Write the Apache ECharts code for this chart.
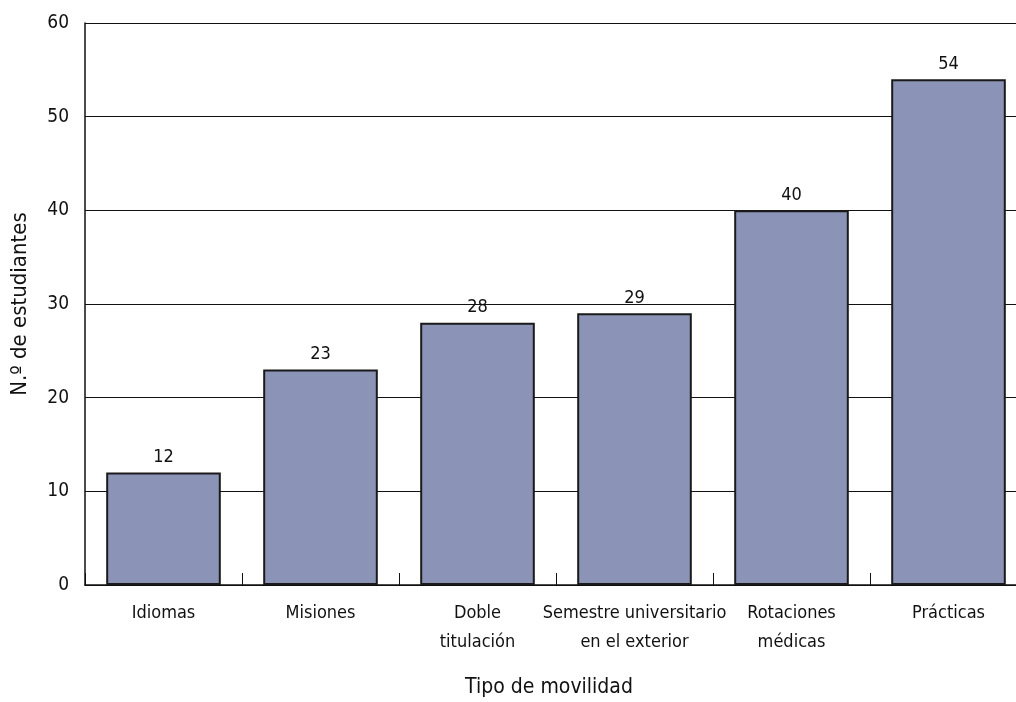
<!DOCTYPE html>
<html>
<head>
<meta charset="utf-8">
<script src="https://cdn.jsdelivr.net/npm/echarts@6/dist/echarts.min.js"></script>
<style>
  html, body { margin: 0; padding: 0; background: #fff; }
  #chart { width: 1016px; height: 702px; }
</style>
</head>
<body>
<div id="chart"></div>
<script>
// datos del gráfico
var categorias = ['Idiomas', 'Misiones', 'Doble\ntitulación', 'Semestre universitario\nen el exterior', 'Rotaciones\nmédicas', 'Prácticas'];
var estudiantes = [12, 23, 28, 29, 40, 54];
var ejeY = { min: 0, max: 60, interval: 10 };

var fuente = '"Liberation Sans Narrow", "DejaVu Sans Condensed", Roboto, sans-serif';

var chart = echarts.init(document.getElementById('chart'));
var option = {
    animation: false,
    textStyle: { fontFamily: fuente },
    grid: { left: 85, width: 942, top: 23, height: 562, outerBoundsMode: 'none', containLabel: false },
    xAxis: {
        type: 'category',
        data: categorias,
        name: 'Tipo de movilidad',
        nameLocation: 'middle',
        nameMoveOverlap: false,
        nameGap: 92,
        nameTextStyle: { fontFamily: fuente, fontSize: 21, color: '#111', padding: [0, 14, 0, 0] },
        axisLine: { lineStyle: { color: '#111', width: 1.5 } },
        axisTick: { show: true, inside: true, length: 12, interval: 0, lineStyle: { color: '#111' } },
        axisLabel: { fontFamily: fuente, fontSize: 18, color: '#111', lineHeight: 29, margin: 14, interval: 0 }
    },
    yAxis: {
        type: 'value',
        min: ejeY.min,
        max: ejeY.max,
        interval: ejeY.interval,
        name: 'N.º de estudiantes',
        nameLocation: 'middle',
        nameGap: 54,
        nameTextStyle: { fontFamily: fuente, fontSize: 22, color: '#111' },
        axisLine: { show: true, lineStyle: { color: '#111', width: 1.5 } },
        axisTick: { show: false },
        axisLabel: { fontFamily: fuente, fontSize: 19, color: '#111', margin: 16 },
        splitLine: { lineStyle: { color: '#111', width: 1 } }
    },
    series: [{
        type: 'bar',
        data: estudiantes,
        barCategoryGap: '27%',
        itemStyle: { color: '#8b93b6', borderColor: '#1a1a1a', borderWidth: 2 },
        label: { show: true, position: 'top', distance: 6, fontFamily: fuente, fontSize: 18, color: '#111' }
    }]
};
chart.setOption(option);
</script>
</body>
</html>
